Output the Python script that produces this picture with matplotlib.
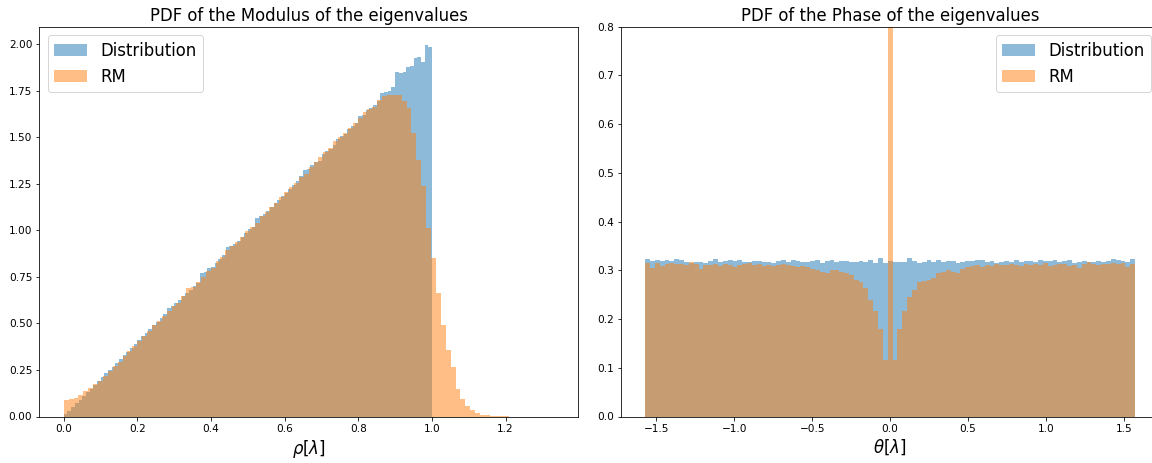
import numpy as np
from matplotlib import pyplot as plt

# modulus histograms (density per bin)
mod_dist = [0.012, 0.030, 0.050, 0.070, 0.088, 0.110, 0.130, 0.148, 0.170, 0.190,
            0.210, 0.232, 0.250, 0.268, 0.290, 0.310, 0.330, 0.348, 0.370, 0.392,
            0.410, 0.430, 0.448, 0.470, 0.490, 0.508, 0.530, 0.550, 0.585, 0.595,
            0.610, 0.625, 0.648, 0.665, 0.680, 0.700, 0.720, 0.770, 0.775, 0.800,
            0.805, 0.825, 0.845, 0.870, 0.910, 0.915, 0.925, 0.945, 0.965, 0.985,
            1.005, 1.020, 1.065, 1.075, 1.090, 1.105, 1.125, 1.145, 1.165, 1.185,
            1.200, 1.225, 1.245, 1.265, 1.290, 1.325, 1.330, 1.350, 1.365, 1.375,
            1.410, 1.425, 1.440, 1.460, 1.490, 1.505, 1.520, 1.545, 1.560, 1.575,
            1.615, 1.620, 1.645, 1.660, 1.675, 1.695, 1.740, 1.745, 1.750, 1.770,
            1.850, 1.845, 1.850, 1.880, 1.885, 1.925, 1.930, 1.905, 1.995, 1.985]
mod_dist_range = (0.0, 1.0)

mod_rm = [0.086, 0.092, 0.098, 0.115, 0.135, 0.152, 0.172, 0.190, 0.215, 0.245,
          0.272, 0.292, 0.325, 0.352, 0.378, 0.405, 0.432, 0.462, 0.490, 0.515,
          0.538, 0.565, 0.592, 0.612, 0.645, 0.690, 0.695, 0.725, 0.752, 0.782,
          0.800, 0.835, 0.855, 0.895, 0.915, 0.940, 0.965, 0.995, 1.020, 1.040,
          1.075, 1.100, 1.125, 1.145, 1.180, 1.205, 1.235, 1.255, 1.285, 1.305,
          1.340, 1.365, 1.395, 1.420, 1.445, 1.480, 1.500, 1.525, 1.550, 1.575,
          1.605, 1.635, 1.655, 1.665, 1.700, 1.725, 1.730, 1.730, 1.730, 1.694,
          1.656, 1.524, 1.380, 1.241, 1.014, 0.850, 0.665, 0.490, 0.360, 0.265,
          0.150, 0.095, 0.055, 0.036, 0.020, 0.010, 0.008, 0.004, 0.003, 0.002,
          0.002, 0.0, 0.0, 0.0, 0.0, 0.0, 0.0, 0.0, 0.0, 0.0]
mod_rm_range = (0.0, 1.33)

# phase histograms
ph_dist = [0.323, 0.320, 0.321, 0.319, 0.321, 0.320, 0.324, 0.321, 0.318, 0.316,
           0.318, 0.318, 0.316, 0.320, 0.323, 0.318, 0.320, 0.322, 0.319, 0.321,
           0.317, 0.318, 0.320, 0.319, 0.318, 0.318, 0.316, 0.320, 0.322, 0.318,
           0.321, 0.320, 0.318, 0.317, 0.320, 0.321, 0.316, 0.319, 0.322, 0.318,
           0.320, 0.319, 0.318, 0.317, 0.320, 0.318, 0.322, 0.316, 0.326, 0.316,
           0.320,
           0.318, 0.317, 0.317, 0.326, 0.319, 0.316, 0.318, 0.321, 0.318, 0.322,
           0.318, 0.320, 0.319, 0.316, 0.318, 0.320, 0.319, 0.322, 0.321, 0.318,
           0.320, 0.316, 0.318, 0.320, 0.318, 0.321, 0.317, 0.320, 0.320, 0.318,
           0.321, 0.319, 0.320, 0.322, 0.318, 0.320, 0.322, 0.316, 0.318, 0.319,
           0.318, 0.317, 0.320, 0.318, 0.319, 0.324, 0.321, 0.320, 0.318, 0.323]

ph_rm = [0.315, 0.305, 0.315, 0.308, 0.312, 0.316, 0.312, 0.314, 0.310, 0.318,
         0.314, 0.303, 0.311, 0.310, 0.312, 0.309, 0.313, 0.311, 0.306, 0.310,
         0.313, 0.315, 0.310, 0.312, 0.309, 0.311, 0.308, 0.310, 0.312, 0.310,
         0.309, 0.307, 0.308, 0.306, 0.303, 0.300, 0.297, 0.294, 0.300, 0.300,
         0.297, 0.294, 0.290, 0.280, 0.277, 0.264, 0.239, 0.217, 0.180, 0.116,
         1.200,
         0.116, 0.180, 0.217, 0.245, 0.260, 0.277, 0.278, 0.280, 0.285, 0.294,
         0.297, 0.300, 0.297, 0.294, 0.303, 0.306, 0.308, 0.310, 0.306, 0.311,
         0.309, 0.312, 0.310, 0.311, 0.313, 0.310, 0.309, 0.312, 0.311, 0.314,
         0.310, 0.316, 0.309, 0.311, 0.313, 0.312, 0.308, 0.311, 0.305, 0.312,
         0.318, 0.314, 0.311, 0.313, 0.312, 0.316, 0.312, 0.315, 0.306, 0.314]
ph_range = (-np.pi / 2, np.pi / 2)


def draw_hist(ax, vals, rng, label):
	edges = np.linspace(rng[0], rng[1], len(vals) + 1)
	centers = 0.5 * (edges[1:] + edges[:-1])
	ax.hist(centers, bins=edges, weights=vals, alpha=0.5, label=label)


plt.rcParams['xtick.labelsize'] = 10.5
plt.rcParams['ytick.labelsize'] = 10.5

fig = plt.figure(figsize=(16, 463 / 72), dpi=72)

# left panel: modulus
ax1 = fig.add_axes([39.3 / 1152, 46.5 / 463, 538.7 / 1152, 389.8 / 463])
draw_hist(ax1, mod_dist, mod_dist_range, 'Distribution')
draw_hist(ax1, mod_rm, mod_rm_range, 'RM')
ax1.set_title('PDF of the Modulus of the eigenvalues', fontsize=16.5)
ax1.set_xlabel(r'$\rho[\lambda]$', fontsize=16.5)
ax1.legend(loc='upper left', fontsize=16.5)

# right panel: phase (figure is cropped on the right like the original)
ax2 = fig.add_axes([620.7 / 1152, 46.5 / 463, 538.9 / 1152, 389.8 / 463])
draw_hist(ax2, ph_dist, ph_range, 'Distribution')
draw_hist(ax2, ph_rm, ph_range, 'RM')
ax2.set_ylim(0, 0.8)
ax2.set_title('PDF of the Phase of the eigenvalues', fontsize=16.5)
ax2.set_xlabel(r'$\theta[\lambda]$', fontsize=16.5)
ax2.legend(loc='upper right', fontsize=16.5)

fig.savefig('out.png', dpi=72)
